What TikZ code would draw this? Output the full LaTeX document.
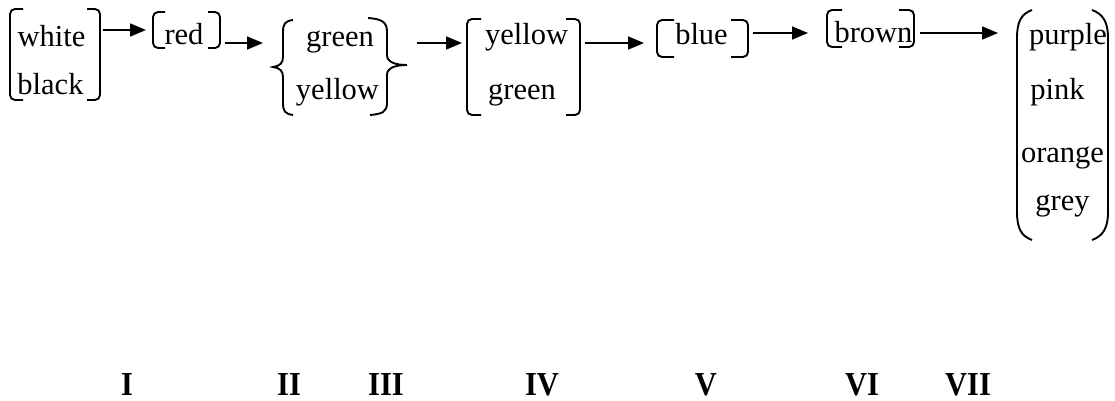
\documentclass[tikz,border=0pt]{standalone}
\usepackage{fontspec}
\setmainfont{Liberation Serif}
\usetikzlibrary{arrows.meta}
\begin{document}
\begin{tikzpicture}[x=1pt,y=-1pt,
  word/.style={anchor=base,inner sep=0pt,font=\fontsize{30.5pt}{36pt}\selectfont},
  numeral/.style={anchor=base,inner sep=0pt,font=\fontsize{30.5pt}{36pt}\selectfont\bfseries},
  brk/.style={line width=1.9pt,rounded corners=5pt},
  curl/.style={line width=1.9pt},
  flow/.style={line width=1.7pt,-{Triangle[length=16pt,width=13pt]}}]
\useasboundingbox (0,0) rectangle (1115,401);

% square brackets round a group: left x, right x, top y, bottom y, hook length
\newcommand\bracketpair[5]{%
  \draw[brk] (#1+#5,#3) -- (#1,#3) -- (#1,#4) -- (#1+#5,#4);
  \draw[brk] (#2-#5,#3) -- (#2,#3) -- (#2,#4) -- (#2-#5,#4);}

% stage I
\node[word] (white) at (51.5,47) {white};
\node[word] (black) at (50.5,95) {black};
\bracketpair{10}{100}{9}{100}{13}
% stage II
\node[word] (red) at (184,45) {red};
\bracketpair{153}{220}{12}{48}{12}
% stage III, curly braces
\node[word] (green3) at (340,47) {green};
\node[word] (yellow3) at (337.5,100) {yellow};
\draw[curl] (293,20) .. controls (285,21) and (283,24) .. (283,32)
  -- (283,57) .. controls (283,63) and (280,66) .. (273,67)
  .. controls (280,68) and (283,71) .. (283,77)
  -- (283,103) .. controls (283,111) and (285,114) .. (293,115);
\draw[curl] (368,18) .. controls (382,19) and (387,22) .. (387,32)
  -- (387,55) .. controls (387,62) and (395,65) .. (407,65)
  .. controls (395,65) and (387,68) .. (387,75)
  -- (387,103) .. controls (387,112) and (382,114) .. (370,115);
% stage IV
\node[word] (yellow4) at (526.5,45) {yellow};
\node[word] (green4) at (522,100) {green};
\bracketpair{467}{580}{19}{115}{14}
% stage V
\node[word] (blue) at (701.5,45) {blue};
\bracketpair{657}{748}{20}{57}{17}
% stage VI
\node[word] (brown) at (873.5,43) {brown};
\bracketpair{827}{914}{10}{47}{15}
% stage VII, round brackets
\node[word] (purple) at (1068,45) {purple};
\node[word] (pink) at (1057.5,100) {pink};
\node[word] (orange) at (1062.5,162) {orange};
\node[word] (grey) at (1062.5,210) {grey};
\draw[curl] (1032,10) .. controls (1021,14) and (1017,22) .. (1017,38)
  -- (1017,212) .. controls (1017,228) and (1021,236) .. (1032,240);
\draw[curl] (1092,10) .. controls (1103,14) and (1108,22) .. (1108,38)
  -- (1108,212) .. controls (1108,228) and (1103,236) .. (1092,240);

% arrow ends beside the brackets
\coordinate (o1) at (103,30);  \coordinate (i2) at (146,30);
\coordinate (o2) at (225,43);  \coordinate (i3) at (263,43);
\coordinate (o3) at (417,43);  \coordinate (i4) at (462,43);
\coordinate (o4) at (585,43);  \coordinate (i5) at (644,43);
\coordinate (o5) at (753,33);  \coordinate (i6) at (808,33);
\coordinate (o6) at (920,33);  \coordinate (i7) at (998,33);
\draw[flow] (o1) -- (i2);
\draw[flow] (o2) -- (i3);
\draw[flow] (o3) -- (i4);
\draw[flow] (o4) -- (i5);
\draw[flow] (o5) -- (i6);
\draw[flow] (o6) -- (i7);

% stage numbers
\node[numeral] (n1) at (127,395) {\scalebox{1}[1.1]{I}};
\node[numeral] (n2) at (289,395) {\scalebox{1}[1.1]{II}};
\node[numeral] (n3) at (386,395) {\scalebox{1}[1.1]{III}};
\node[numeral] (n4) at (542,395) {\scalebox{1}[1.1]{IV}};
\node[numeral] (n5) at (706,395) {\scalebox{1}[1.1]{V}};
\node[numeral] (n6) at (862,395) {\scalebox{1}[1.1]{VI}};
\node[numeral] (n7) at (968,395) {\scalebox{1}[1.1]{VII}};
\end{tikzpicture}
\end{document}
